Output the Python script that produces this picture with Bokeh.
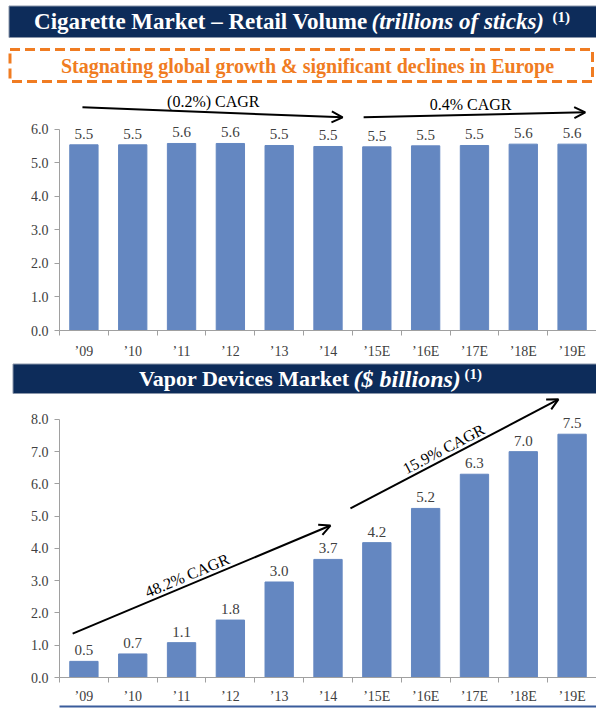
from bokeh.plotting import figure
from bokeh.models import Range1d, FixedTicker, NumeralTickFormatter, Arrow, OpenHead, LinearAxis
from bokeh.layouts import column
from bokeh.embed import file_html
from bokeh.resources import INLINE
from bokeh.core.properties import value

# ---------------- data ----------------
years = ["’09", "’10", "’11", "’12", "’13", "’14", "’15E", "’16E", "’17E", "’18E", "’19E"]
cig_volume = [5.54, 5.54, 5.58, 5.58, 5.52, 5.49, 5.48, 5.51, 5.52, 5.56, 5.56]
vapor_sales = [0.5, 0.73, 1.08, 1.78, 2.96, 3.66, 4.18, 5.24, 6.3, 7.0, 7.54]
cig_yticks = [0, 1, 2, 3, 4, 5, 6]
vapor_yticks = [0, 1, 2, 3, 4, 5, 6, 7, 8]
cig_cagr = ["(0.2%) CAGR", "0.4% CAGR"]
vapor_cagr = ["48.2% CAGR", "15.9% CAGR"]

# ---------------- style ----------------
W = 596
SERIF = "Liberation Serif"
NAVY = "#0D2C5A"
ORANGE = "#F07C22"
BAR = "#6487C1"
AXIS = "#A0A0A0"
LABEL = "#404040"
idx = list(range(len(years)))


def blank(h):
    p = figure(width=W, height=h, x_range=Range1d(0, W), y_range=Range1d(h, 0),
               output_backend="svg", toolbar_location=None, min_border=0,
               x_axis_location=None, y_axis_location=None, frame_align=False)
    p.grid.visible = False
    p.outline_line_color = None
    return p


def header(h, box_left, box_top, box_bottom, parts):
    p = blank(h)
    p.quad(left=box_left, right=W, top=box_top, bottom=box_bottom,
           fill_color=NAVY, line_color="#8A96AA", line_width=1)
    for (x, y, txt, style, size, align) in parts:
        p.text(x=[x], y=[y], text=[txt], text_align=align, text_baseline="middle",
               text_font=value(SERIF), text_font_style=style, text_font_size=size,
               text_color="white")
    return p


pA = header(85, 8.5, 5.5, 37, [
    (367, 21, "Cigarette Market – Retail Volume", "bold", "23px", "right"),
    (371, 21, "(trillions of sticks)", "bold italic", "23px", "left"),
    (552, 16, "(1)", "bold", "15px", "left"),
])
pA.quad(left=9.5, right=W - 4, top=49, bottom=81, fill_color=None,
        line_color=ORANGE, line_width=3, line_dash="10 5")
pA.text(x=[307], y=[65], text=["Stagnating global growth & significant declines in Europe"],
        text_align="center", text_baseline="middle", text_font=value(SERIF),
        text_font_style="bold", text_font_size="20px", text_color=ORANGE)


def chart(h, ytop, yticks, vals, bottom_border, standoff):
    p = figure(width=W, height=h, x_range=Range1d(-0.5, len(years) - 0.5),
               y_range=Range1d(0, ytop), output_backend="svg", toolbar_location=None,
               min_border_left=59, min_border_right=0, min_border_top=0,
               min_border_bottom=bottom_border, frame_align=False)
    p.grid.visible = False
    p.outline_line_color = None
    p.vbar(x=idx, top=vals, width=0.58, color=BAR)
    p.text(x=idx, y=vals, text=[f"{v:.1f}" for v in vals], text_align="center",
           text_baseline="bottom", y_offset=-6, text_font=value(SERIF),
           text_font_size="15px", text_color=LABEL)
    xa = p.xaxis[0]
    xa.ticker = FixedTicker(ticks=idx, minor_ticks=[i - 0.5 for i in range(len(years) + 1)])
    xa.major_label_overrides = {i: y for i, y in enumerate(years)}
    xa.major_tick_out = 0
    xa.major_tick_in = 0
    xa.minor_tick_out = 5
    xa.minor_tick_in = 0
    xa.axis_line_color = AXIS
    xa.minor_tick_line_color = AXIS
    xa.major_label_standoff = standoff
    xa.major_label_text_font = SERIF
    xa.major_label_text_font_size = "14px"
    xa.major_label_text_color = LABEL
    ya = p.yaxis[0]
    ya.ticker = FixedTicker(ticks=yticks)
    ya.formatter = NumeralTickFormatter(format="0.0")
    ya.bounds = (yticks[0], yticks[-1])
    ya.major_tick_out = 5
    ya.major_tick_in = 0
    ya.minor_tick_out = 0
    ya.minor_tick_in = 0
    ya.axis_line_color = AXIS
    ya.major_tick_line_color = AXIS
    ya.major_label_standoff = 6
    ya.major_label_text_font = SERIF
    ya.major_label_text_font_size = "14px"
    ya.major_label_text_color = LABEL
    return p


# ---- cigarette chart ----
pB = chart(277, 7.31, cig_yticks, cig_volume, 32, 8)
pB.add_layout(Arrow(end=OpenHead(size=11, line_width=2), x_start=-0.03, y_start=6.66,
                    x_end=5.3, y_end=6.36, line_width=2, line_color="black"))
pB.add_layout(Arrow(end=OpenHead(size=11, line_width=2), x_start=5.73, y_start=6.36,
                    x_end=10.27, y_end=6.51, line_width=2, line_color="black"))
pB.text(x=[2.65, 7.92], y=[6.51, 6.44], text=cig_cagr, text_align="center",
        text_baseline="bottom", y_offset=-2, text_font=value(SERIF),
        text_font_size="16px", text_color="black")

# ---- vapor header ----
pC = header(33, 12.5, 1.5, 31, [
    (349, 16, "Vapor Devices Market", "bold", "22px", "right"),
    (353, 16, "($ billions)", "bold italic", "24px", "left"),
    (464, 11, "(1)", "bold", "15px", "left"),
])

# ---- vapor chart ----
pD = chart(315, 8.74, vapor_yticks, vapor_sales, 33, 6)
pD.add_layout(Arrow(end=OpenHead(size=11, line_width=2), x_start=-0.23, y_start=1.36,
                    x_end=5.05, y_end=4.71, line_width=2, line_color="black"))
pD.add_layout(Arrow(end=OpenHead(size=11, line_width=2), x_start=5.46, y_start=5.24,
                    x_end=9.72, y_end=8.62, line_width=2, line_color="black"))
pD.text(x=[2.18, 7.45], y=[2.89, 6.82], text=vapor_cagr, angle=[0.396, 0.482],
        text_align="center", text_baseline="bottom", y_offset=-1, text_font=value(SERIF),
        text_font_size="16px", text_color="black")
# thin blue rule along the bottom of the slide
rule = LinearAxis(ticker=FixedTicker(ticks=[]), axis_line_color="#3A5C9B", axis_line_width=2,
                  major_tick_out=0, major_tick_in=0, minor_tick_out=0, minor_tick_in=0,
                  major_label_standoff=0, major_label_text_font_size="0px")
pD.add_layout(rule, "below")

layout = column(pA, pB, pC, pD, spacing=0)
open("out.html", "w").write(file_html(layout, INLINE))
